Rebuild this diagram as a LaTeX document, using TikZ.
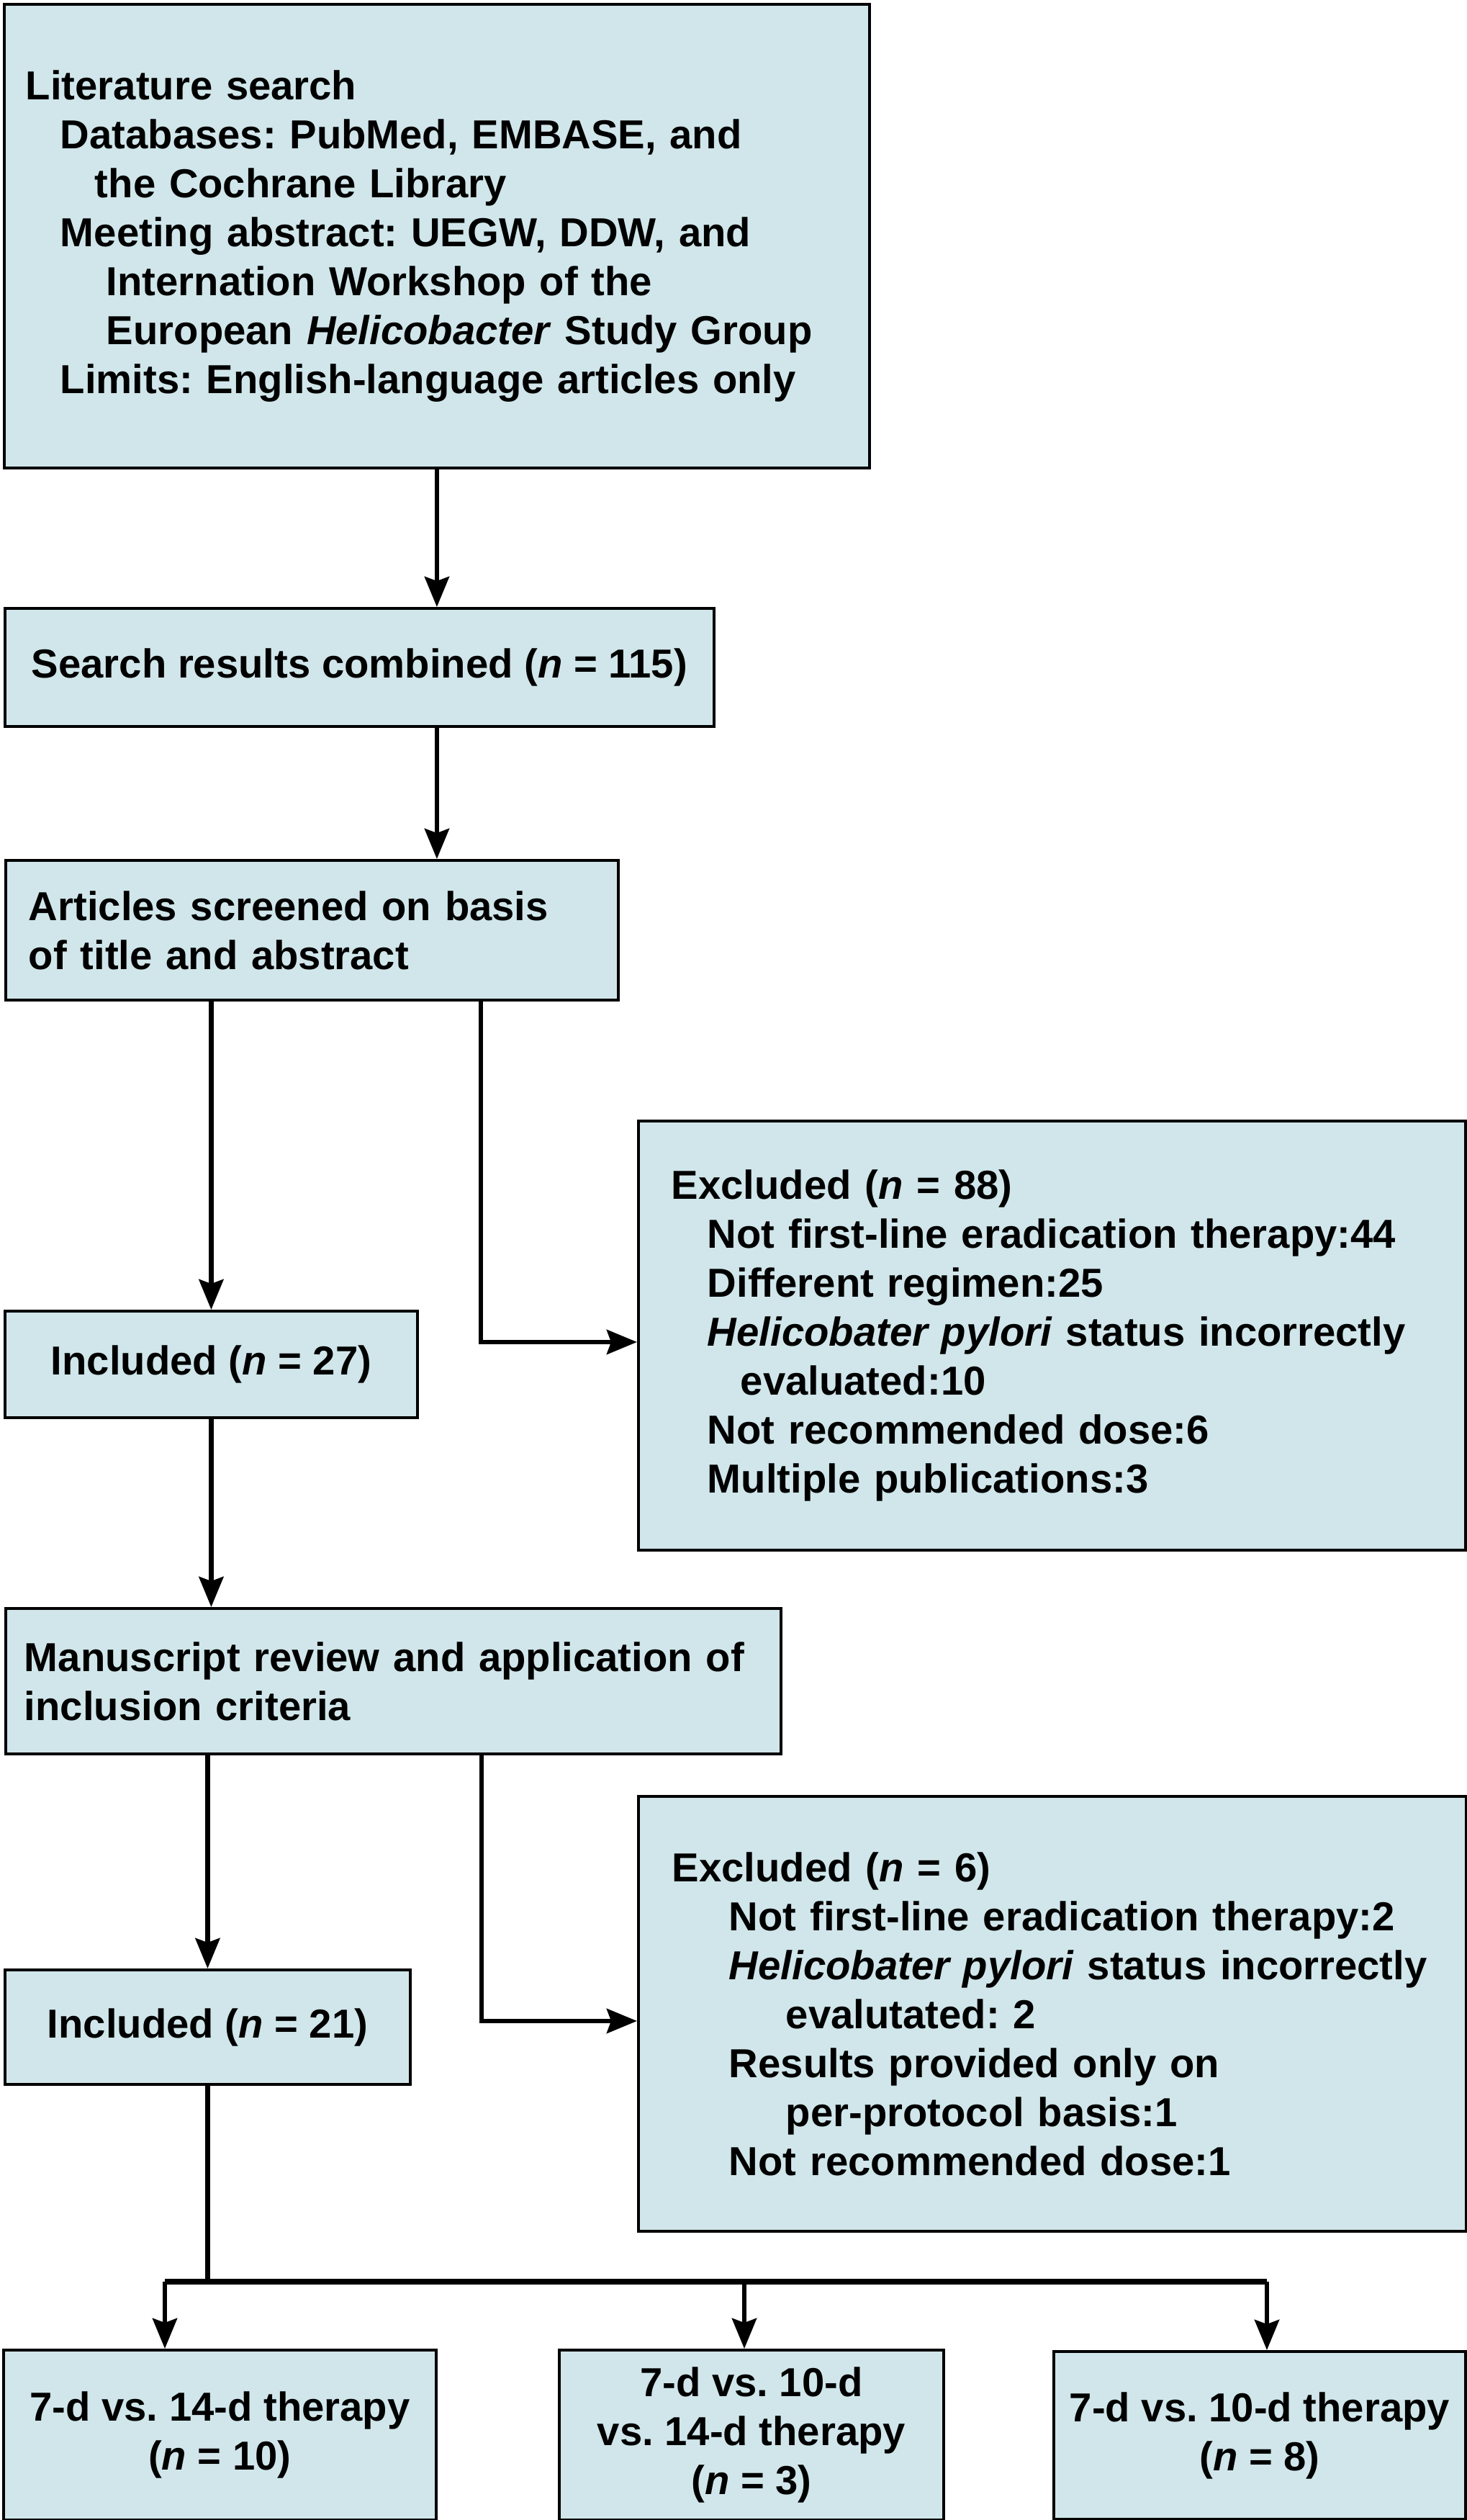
\documentclass[tikz,border=0pt]{standalone}
\usepackage{fontspec}
\setmainfont{Liberation Sans}
\usetikzlibrary{arrows.meta}
\definecolor{boxfill}{RGB}{208,230,234}
\tikzset{>={Stealth[length=4.2mm, width=3.4mm, inset=0.6mm]}}
\frenchspacing

\begin{document}
\begin{tikzpicture}[
  every node/.style={font=\fontsize{16}{19.35}\selectfont\bfseries},
  stage/.style={draw, line width=1.1pt, fill=boxfill, anchor=north west, inner ysep=0pt},
  textbox/.style={stage, align=left},
  countbox/.style={stage, align=center, inner xsep=0pt},
  flow/.style={->, line width=1.85pt},
  branch/.style={line width=2.3pt}
]
\useasboundingbox (0,0) rectangle (20.37,-35.00);

% Search and screening
\node[textbox, text width=11.42cm, inner xsep=0.30cm, minimum height=6.44cm] (lit) at (0.04,-0.04) {
  Literature search\\
  \hspace*{0.48cm}Databases: PubMed, EMBASE, and\\
  \hspace*{0.96cm}the Cochrane Library\\
  \hspace*{0.48cm}Meeting abstract: UEGW, DDW, and\\
  \hspace*{1.12cm}Internation Workshop of the\\
  \hspace*{1.12cm}European \textit{Helicobacter} Study Group\\
  \hspace*{0.48cm}Limits: English-language articles only};
\node[countbox, minimum width=9.85cm, minimum height=1.64cm] (search) at (0.05,-8.43) {Search results combined (\textit{n} = 115)};
\node[textbox, text width=7.87cm, inner xsep=0.32cm, minimum height=1.94cm] (screen) at (0.06,-11.93) {
  Articles screened on basis\\
  of title and abstract};

% First exclusion
\node[textbox, text width=10.57cm, inner xsep=0.46cm, minimum height=5.96cm] (excl1) at (8.85,-15.55) {
  Excluded (\textit{n} = 88)\\
  \hspace*{0.50cm}Not first-line eradication therapy:44\\
  \hspace*{0.50cm}Different regimen:25\\
  \hspace*{0.50cm}\textit{Helicobater pylori} status incorrectly\\
  \hspace*{0.96cm}evaluated:10\\
  \hspace*{0.50cm}Not recommended dose:6\\
  \hspace*{0.50cm}Multiple publications:3};
\node[countbox, minimum width=5.73cm, minimum height=1.48cm] (incl1) at (0.05,-18.19) {Included (\textit{n} = 27)};

% Full-text review
\node[textbox, text width=10.25cm, inner xsep=0.26cm, minimum height=2.02cm] (review) at (0.06,-22.32) {
  Manuscript review and application of\\
  inclusion criteria};
\node[textbox, text width=10.56cm, inner xsep=0.47cm, minimum height=6.04cm] (excl2) at (8.85,-24.93) {
  Excluded (\textit{n} = 6)\\
  \hspace*{0.79cm}Not first-line eradication therapy:2\\
  \hspace*{0.79cm}\textit{Helicobater pylori} status incorrectly\\
  \hspace*{1.58cm}evalutated: 2\\
  \hspace*{0.79cm}Results provided only on\\
  \hspace*{1.58cm}per-protocol basis:1\\
  \hspace*{0.79cm}Not recommended dose:1};
\node[countbox, minimum width=5.63cm, minimum height=1.59cm] (incl2) at (0.05,-27.34) {Included (\textit{n} = 21)};

% Comparisons
\node[countbox, minimum width=6.01cm, minimum height=2.36cm] (armA) at (0.03,-32.62) {7-d vs. 14-d therapy\\(\textit{n} = 10)};
\node[countbox, minimum width=5.34cm, minimum height=2.36cm] (armB) at (7.75,-32.62) {7-d vs. 10-d\\vs. 14-d therapy\\(\textit{n} = 3)};
\node[countbox, minimum width=5.72cm, minimum height=2.33cm] (armC) at (14.62,-32.64) {7-d vs. 10-d therapy\\(\textit{n} = 8)};

% Connectors
\draw[flow] (lit.south) -- (lit.south |- search.north);
\draw[flow] (lit.south |- search.south) -- (lit.south |- screen.north);
\draw[flow] (incl1.north |- screen.south) -- (incl1.north);
\draw[flow] ([xshift=6.62cm]screen.south west) |- ([yshift=-0.09cm]excl1.west);
\draw[flow] (incl1.south) -- (incl1.south |- review.north);
\draw[flow] (incl2.north |- review.south) -- (incl2.north);
\draw[flow] ([xshift=6.63cm]review.south west) |- ([yshift=-0.10cm]excl2.west);

% Split into the three comparisons
\coordinate (barL) at (2.29,-31.69);
\coordinate (barM) at (10.34,-31.69);
\coordinate (barR) at (17.60,-31.69);
\draw[line width=1.85pt] (incl2.south) -- (incl2.south |- barL);
\draw[branch] (barL) -- (barR);
\draw[flow] (barL) -- (barL |- armA.north);
\draw[flow] (barM) -- (barM |- armB.north);
\draw[flow] (barR) -- (barR |- armC.north);

\end{tikzpicture}
\end{document}
